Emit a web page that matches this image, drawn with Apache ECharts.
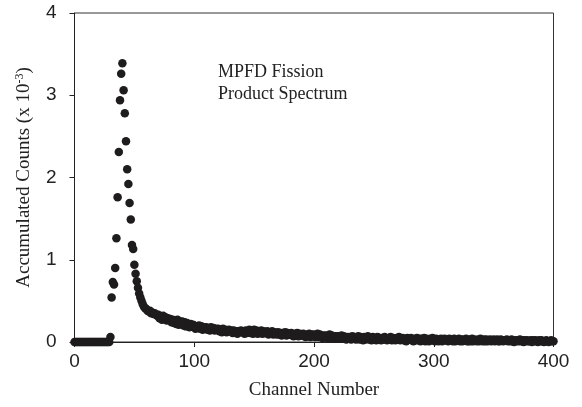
<!DOCTYPE html>
<html>
<head>
<meta charset="utf-8">
<script src="https://cdn.jsdelivr.net/npm/echarts@6/dist/echarts.min.js"></script>
<style>
  html, body { margin: 0; padding: 0; background: #fff; }
  #chart { width: 582px; height: 407px; }
</style>
</head>
<body>
<div id="chart"></div>
<script>
  // accumulated counts (x 10^-3), one value per channel 0..400
  var counts = [
    0, 0, 0, 0, 0, 0, 0, 0, 0, 0,
    0, 0, 0, 0, 0, 0, 0, 0, 0, 0,
    0, 0, 0, 0, 0, 0, 0, 0, 0, 0,
    0.06, 0.54, 0.73, 0.70, 0.90, 1.26, 1.76, 2.31, 2.94, 3.26,
    3.39, 3.06, 2.78, 2.44, 2.10, 1.92, 1.69, 1.49, 1.18, 1.13,
    0.94, 0.83, 0.74, 0.66, 0.59, 0.54, 0.50, 0.46, 0.43, 0.41,
    0.40, 0.38, 0.37, 0.38, 0.35, 0.36, 0.34, 0.35, 0.33, 0.32,
    0.33, 0.29, 0.31, 0.27, 0.32, 0.28, 0.30, 0.26, 0.29, 0.27,
    0.28, 0.24, 0.27, 0.23, 0.26, 0.22, 0.27, 0.21, 0.25, 0.23,
    0.25, 0.20, 0.24, 0.19, 0.23, 0.21, 0.18, 0.22, 0.19, 0.21,
    0.20, 0.16, 0.19, 0.17, 0.20, 0.16, 0.19, 0.15, 0.18, 0.17,
    0.18, 0.15, 0.17, 0.14, 0.18, 0.15, 0.17, 0.14, 0.16, 0.15,
    0.16, 0.13, 0.15, 0.12, 0.16, 0.13, 0.15, 0.12, 0.14, 0.15,
    0.13, 0.14, 0.11, 0.14, 0.12, 0.13, 0.10, 0.13, 0.12, 0.14,
    0.12, 0.13, 0.10, 0.14, 0.11, 0.13, 0.15, 0.11, 0.14, 0.10,
    0.15, 0.11, 0.14, 0.10, 0.13, 0.11, 0.14, 0.10, 0.13, 0.11,
    0.11, 0.13, 0.09, 0.12, 0.10, 0.13, 0.09, 0.12, 0.10, 0.09,
    0.12, 0.09, 0.11, 0.08, 0.11, 0.09, 0.12, 0.08, 0.11, 0.09,
    0.09, 0.11, 0.08, 0.07, 0.10, 0.08, 0.11, 0.07, 0.10, 0.08,
    0.08, 0.10, 0.07, 0.06, 0.09, 0.07, 0.10, 0.06, 0.09, 0.07,
    0.09, 0.06, 0.08, 0.10, 0.06, 0.09, 0.07, 0.05, 0.08, 0.06,
    0.08, 0.05, 0.07, 0.09, 0.05, 0.08, 0.06, 0.04, 0.07, 0.05,
    0.07, 0.04, 0.06, 0.08, 0.04, 0.07, 0.05, 0.03, 0.06, 0.04,
    0.06, 0.03, 0.07, 0.04, 0.06, 0.03, 0.05, 0.07, 0.03, 0.06,
    0.05, 0.02, 0.06, 0.03, 0.05, 0.07, 0.03, 0.05, 0.02, 0.06,
    0.04, 0.05, 0.02, 0.06, 0.03, 0.05, 0.02, 0.05, 0.03, 0.06,
    0.04, 0.02, 0.05, 0.03, 0.06, 0.02, 0.05, 0.03, 0.02, 0.05,
    0.04, 0.06, 0.02, 0.04, 0.05, 0.02, 0.04, 0.01, 0.05, 0.03,
    0.03, 0.05, 0.02, 0.01, 0.04, 0.02, 0.05, 0.02, 0.04, 0.01,
    0.04, 0.02, 0.05, 0.01, 0.04, 0.02, 0.01, 0.04, 0.02, 0.05,
    0.03, 0.01, 0.04, 0.02, 0.01, 0.03, 0.04, 0.01, 0.03, 0.04,
    0.02, 0.03, 0.01, 0.04, 0.02, 0.03, 0.01, 0.04, 0.01, 0.03,
    0.02, 0.04, 0.01, 0.03, 0.01, 0.03, 0.02, 0.04, 0.01, 0.01,
    0.03, 0.01, 0.04, 0.01, 0.03, 0.02, 0.01, 0.03, 0.01, 0.04,
    0.02, 0.01, 0.03, 0.01, 0.03, 0.01, 0.02, 0.03, 0.01, 0.02,
    0.03, 0.01, 0.02, 0.03, 0.01, 0.01, 0.03, 0.02, 0.01, 0.02,
    0.02, 0.03, 0.01, 0.02, 0.01, 0.03, 0.01, 0.00, 0.02, 0.01,
    0.02, 0.01, 0.03, 0.01, 0.02, 0.00, 0.02, 0.01, 0.02, 0.01,
    0.01, 0.02, 0.00, 0.02, 0.01, 0.02, 0.01, 0.00, 0.02, 0.01,
    0.02, 0.01, 0.00, 0.01, 0.02, 0.01, 0.00, 0.01, 0.02, 0.01,
    0.01
  ]
  var xTicks = [0, 100, 200, 300, 400]
  var yTicks = [0, 1, 2, 3, 4]
  var noteLines = ['MPFD Fission', 'Product Spectrum']

  var points = counts.map(function (v, ch) { return [ch, v] })

  var sans = 'Liberation Sans, Arial, sans-serif'
  var serif = 'Liberation Serif, Times New Roman, serif'

  var chart = echarts.init(document.getElementById('chart'))
  chart.setOption({
    animation: false,
    grid: {
      left: 74.5,
      right: 28.5,
      top: 13,
      bottom: 65,
      show: true,
      borderColor: '#333',
      borderWidth: 1,
      backgroundColor: 'transparent'
    },
    xAxis: {
      type: 'value',
      min: xTicks[0],
      max: xTicks[xTicks.length - 1],
      interval: 100,
      name: 'Channel Number',
      nameLocation: 'middle',
      nameGap: 39,
      nameTextStyle: { fontFamily: serif, fontSize: 19, color: '#222' },
      axisLine: { lineStyle: { color: '#222', width: 1 } },
      axisTick: { inside: false, length: 5, lineStyle: { color: '#222' } },
      axisLabel: { fontFamily: sans, fontSize: 19, color: '#222', margin: 10 },
      splitLine: { show: false }
    },
    yAxis: {
      type: 'value',
      min: yTicks[0],
      max: yTicks[yTicks.length - 1],
      interval: 1,
      name: '{a|Accumulated Counts (x 10}{s|-3}{a|)}',
      nameLocation: 'middle',
      nameGap: 39,
      nameTextStyle: {
        rich: {
          a: { fontFamily: serif, fontSize: 19, color: '#222', lineHeight: 22 },
          s: { fontFamily: serif, fontSize: 12, color: '#222', verticalAlign: 'top', lineHeight: 22 }
        }
      },
      axisLine: { show: true, lineStyle: { color: '#222', width: 1 } },
      axisTick: { show: true, inside: false, length: 5, lineStyle: { color: '#222' } },
      axisLabel: { fontFamily: sans, fontSize: 19, color: '#222', margin: 18 },
      splitLine: { show: false }
    },
    graphic: [{
      type: 'text',
      left: 218,
      top: 61,
      style: {
        text: noteLines.join('\n'),
        font: '18px ' + serif,
        lineHeight: 22,
        fill: '#222'
      }
    }],
    series: [{
      type: 'scatter',
      data: points,
      symbol: 'circle',
      symbolSize: 8.5,
      itemStyle: { color: '#1e1c1c', opacity: 1 },
      clip: false
    }]
  })
</script>
</body>
</html>
